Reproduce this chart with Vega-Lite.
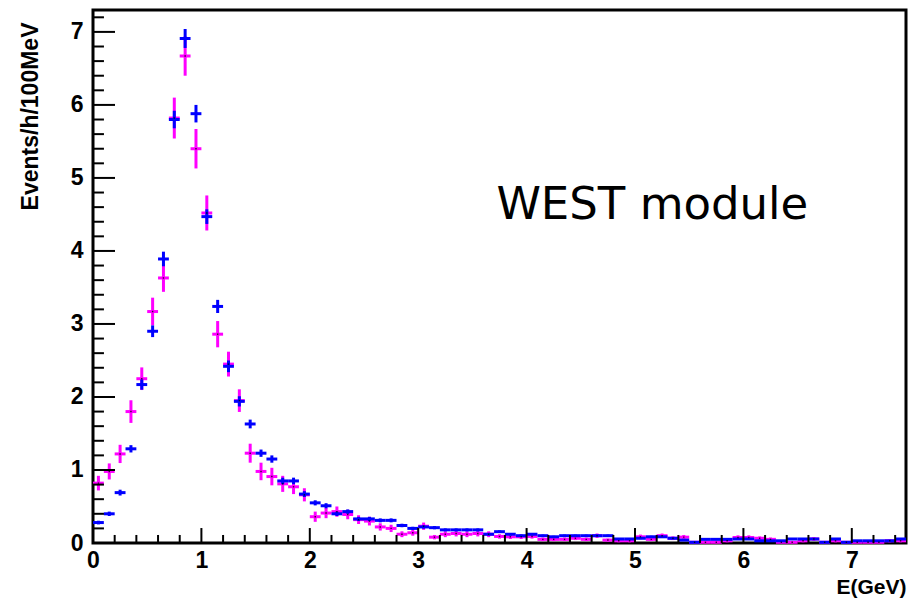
{
  "$schema": "https://vega.github.io/schema/vega-lite/v6.json",
  "width": 813,
  "height": 533,
  "autosize": {"type": "none"},
  "padding": {"left": 93, "top": 10, "right": 12, "bottom": 57},
  "background": "white",
  "config": {
    "view": {"stroke": "black", "strokeWidth": 3},
    "axis": {
      "domain": false, "ticks": false, "tickSize": 0,
      "labelFont": "Liberation Sans", "labelFontWeight": "bold", "labelFontSize": 23, "labelColor": "black",
      "titleFont": "Liberation Sans", "titleFontWeight": "bold", "titleFontSize": 21, "titleColor": "black",
      "grid": false
    }
  },
  "datasets": {
    "xmajor": [{"t":0},{"t":1},{"t":2},{"t":3},{"t":4},{"t":5},{"t":6},{"t":7}],
    "xminor": [{"t":0.2},{"t":0.4},{"t":0.6},{"t":0.8},{"t":1.2},{"t":1.4},{"t":1.6},{"t":1.8},{"t":2.2},{"t":2.4},{"t":2.6},{"t":2.8},{"t":3.2},{"t":3.4},{"t":3.6},{"t":3.8},{"t":4.2},{"t":4.4},{"t":4.6},{"t":4.8},{"t":5.2},{"t":5.4},{"t":5.6},{"t":5.8},{"t":6.2},{"t":6.4},{"t":6.6},{"t":6.8},{"t":7.2},{"t":7.4}],
    "ymajor": [{"t":1},{"t":2},{"t":3},{"t":4},{"t":5},{"t":6},{"t":7}],
    "yminor": [{"t":0.2},{"t":0.4},{"t":0.6},{"t":0.8},{"t":1.2},{"t":1.4},{"t":1.6},{"t":1.8},{"t":2.2},{"t":2.4},{"t":2.6},{"t":2.8},{"t":3.2},{"t":3.4},{"t":3.6},{"t":3.8},{"t":4.2},{"t":4.4},{"t":4.6},{"t":4.8},{"t":5.2},{"t":5.4},{"t":5.6},{"t":5.8},{"t":6.2},{"t":6.4},{"t":6.6},{"t":6.8},{"t":7.2}],
    "magenta": [
      {"e":0.05,"lo":0.0,"hi":0.1,"v":0.82,"ylo":0.72,"yhi":0.92},
      {"e":0.15,"lo":0.1,"hi":0.2,"v":0.98,"ylo":0.87,"yhi":1.09},
      {"e":0.25,"lo":0.2,"hi":0.3,"v":1.22,"ylo":1.095,"yhi":1.345},
      {"e":0.35,"lo":0.3,"hi":0.4,"v":1.80,"ylo":1.645,"yhi":1.955},
      {"e":0.45,"lo":0.4,"hi":0.5,"v":2.25,"ylo":2.095,"yhi":2.405},
      {"e":0.55,"lo":0.5,"hi":0.6,"v":3.17,"ylo":2.98,"yhi":3.36},
      {"e":0.65,"lo":0.6,"hi":0.7,"v":3.63,"ylo":3.44,"yhi":3.82},
      {"e":0.75,"lo":0.7,"hi":0.8,"v":5.82,"ylo":5.54,"yhi":6.10},
      {"e":0.85,"lo":0.8,"hi":0.9,"v":6.67,"ylo":6.40,"yhi":6.94},
      {"e":0.95,"lo":0.9,"hi":1.0,"v":5.40,"ylo":5.13,"yhi":5.67},
      {"e":1.05,"lo":1.0,"hi":1.1,"v":4.52,"ylo":4.28,"yhi":4.76},
      {"e":1.15,"lo":1.1,"hi":1.2,"v":2.86,"ylo":2.68,"yhi":3.04},
      {"e":1.25,"lo":1.2,"hi":1.3,"v":2.45,"ylo":2.28,"yhi":2.62},
      {"e":1.35,"lo":1.3,"hi":1.4,"v":1.95,"ylo":1.795,"yhi":2.105},
      {"e":1.45,"lo":1.4,"hi":1.5,"v":1.23,"ylo":1.10,"yhi":1.36},
      {"e":1.55,"lo":1.5,"hi":1.6,"v":0.98,"ylo":0.86,"yhi":1.10},
      {"e":1.65,"lo":1.6,"hi":1.7,"v":0.91,"ylo":0.79,"yhi":1.03},
      {"e":1.75,"lo":1.7,"hi":1.8,"v":0.81,"ylo":0.70,"yhi":0.92},
      {"e":1.85,"lo":1.8,"hi":1.9,"v":0.77,"ylo":0.67,"yhi":0.87},
      {"e":1.95,"lo":1.9,"hi":2.0,"v":0.66,"ylo":0.57,"yhi":0.75},
      {"e":2.05,"lo":2.0,"hi":2.1,"v":0.36,"ylo":0.29,"yhi":0.43},
      {"e":2.15,"lo":2.1,"hi":2.2,"v":0.41,"ylo":0.34,"yhi":0.48},
      {"e":2.25,"lo":2.2,"hi":2.3,"v":0.43,"ylo":0.36,"yhi":0.50},
      {"e":2.35,"lo":2.3,"hi":2.4,"v":0.39,"ylo":0.325,"yhi":0.455},
      {"e":2.45,"lo":2.4,"hi":2.5,"v":0.32,"ylo":0.26,"yhi":0.38},
      {"e":2.55,"lo":2.5,"hi":2.6,"v":0.30,"ylo":0.24,"yhi":0.36},
      {"e":2.65,"lo":2.6,"hi":2.7,"v":0.22,"ylo":0.17,"yhi":0.27},
      {"e":2.75,"lo":2.7,"hi":2.8,"v":0.20,"ylo":0.15,"yhi":0.25},
      {"e":2.85,"lo":2.8,"hi":2.9,"v":0.12,"ylo":0.08,"yhi":0.16},
      {"e":2.95,"lo":2.9,"hi":3.0,"v":0.14,"ylo":0.10,"yhi":0.18},
      {"e":3.05,"lo":3.0,"hi":3.1,"v":0.23,"ylo":0.18,"yhi":0.28},
      {"e":3.15,"lo":3.1,"hi":3.2,"v":0.08,"ylo":0.05,"yhi":0.11},
      {"e":3.25,"lo":3.2,"hi":3.3,"v":0.12,"ylo":0.08,"yhi":0.16},
      {"e":3.35,"lo":3.3,"hi":3.4,"v":0.13,"ylo":0.09,"yhi":0.17},
      {"e":3.45,"lo":3.4,"hi":3.5,"v":0.12,"ylo":0.08,"yhi":0.16},
      {"e":3.55,"lo":3.5,"hi":3.6,"v":0.13,"ylo":0.09,"yhi":0.17},
      {"e":3.65,"lo":3.6,"hi":3.7,"v":0.12,"ylo":0.08,"yhi":0.16},
      {"e":3.75,"lo":3.7,"hi":3.8,"v":0.09,"ylo":0.06,"yhi":0.12},
      {"e":3.85,"lo":3.8,"hi":3.9,"v":0.085,"ylo":0.055,"yhi":0.115},
      {"e":3.95,"lo":3.9,"hi":4.0,"v":0.085,"ylo":0.055,"yhi":0.115},
      {"e":4.05,"lo":4.0,"hi":4.1,"v":0.09,"ylo":0.06,"yhi":0.12},
      {"e":4.15,"lo":4.1,"hi":4.2,"v":0.05,"ylo":0.025,"yhi":0.075},
      {"e":4.25,"lo":4.2,"hi":4.3,"v":0.05,"ylo":0.025,"yhi":0.075},
      {"e":4.35,"lo":4.3,"hi":4.4,"v":0.05,"ylo":0.025,"yhi":0.075},
      {"e":4.45,"lo":4.4,"hi":4.5,"v":0.065,"ylo":0.04,"yhi":0.09},
      {"e":4.55,"lo":4.5,"hi":4.6,"v":0.05,"ylo":0.025,"yhi":0.075},
      {"e":4.65,"lo":4.6,"hi":4.7,"v":0.10,"ylo":0.07,"yhi":0.13},
      {"e":4.75,"lo":4.7,"hi":4.8,"v":0.04,"ylo":0.02,"yhi":0.06},
      {"e":4.85,"lo":4.8,"hi":4.9,"v":0.03,"ylo":0.01,"yhi":0.05},
      {"e":4.95,"lo":4.9,"hi":5.0,"v":0.03,"ylo":0.01,"yhi":0.05},
      {"e":5.05,"lo":5.0,"hi":5.1,"v":0.085,"ylo":0.055,"yhi":0.115},
      {"e":5.15,"lo":5.1,"hi":5.2,"v":0.05,"ylo":0.025,"yhi":0.075},
      {"e":5.25,"lo":5.2,"hi":5.3,"v":0.10,"ylo":0.07,"yhi":0.13},
      {"e":5.35,"lo":5.3,"hi":5.4,"v":0.065,"ylo":0.04,"yhi":0.09},
      {"e":5.45,"lo":5.4,"hi":5.5,"v":0.08,"ylo":0.05,"yhi":0.11},
      {"e":5.55,"lo":5.5,"hi":5.6,"v":0.01,"ylo":0.0,"yhi":0.02},
      {"e":5.65,"lo":5.6,"hi":5.7,"v":0.01,"ylo":0.0,"yhi":0.02},
      {"e":5.75,"lo":5.7,"hi":5.8,"v":0.01,"ylo":0.0,"yhi":0.02},
      {"e":5.85,"lo":5.8,"hi":5.9,"v":0.03,"ylo":0.01,"yhi":0.05},
      {"e":5.95,"lo":5.9,"hi":6.0,"v":0.075,"ylo":0.045,"yhi":0.105},
      {"e":6.05,"lo":6.0,"hi":6.1,"v":0.075,"ylo":0.045,"yhi":0.105},
      {"e":6.15,"lo":6.1,"hi":6.2,"v":0.065,"ylo":0.04,"yhi":0.09},
      {"e":6.25,"lo":6.2,"hi":6.3,"v":0.05,"ylo":0.025,"yhi":0.075},
      {"e":6.35,"lo":6.3,"hi":6.4,"v":0.01,"ylo":0.0,"yhi":0.02},
      {"e":6.45,"lo":6.4,"hi":6.5,"v":0.01,"ylo":0.0,"yhi":0.02},
      {"e":6.55,"lo":6.5,"hi":6.6,"v":0.03,"ylo":0.01,"yhi":0.05},
      {"e":6.65,"lo":6.6,"hi":6.7,"v":0.055,"ylo":0.03,"yhi":0.08},
      {"e":6.75,"lo":6.7,"hi":6.8,"v":0.01,"ylo":0.0,"yhi":0.02},
      {"e":6.85,"lo":6.8,"hi":6.9,"v":0.03,"ylo":0.01,"yhi":0.05},
      {"e":6.95,"lo":6.9,"hi":7.0,"v":0.01,"ylo":0.0,"yhi":0.02},
      {"e":7.05,"lo":7.0,"hi":7.1,"v":0.01,"ylo":0.0,"yhi":0.02},
      {"e":7.15,"lo":7.1,"hi":7.2,"v":0.01,"ylo":0.0,"yhi":0.02},
      {"e":7.25,"lo":7.2,"hi":7.3,"v":0.01,"ylo":0.0,"yhi":0.02},
      {"e":7.35,"lo":7.3,"hi":7.4,"v":0.03,"ylo":0.01,"yhi":0.05},
      {"e":7.45,"lo":7.4,"hi":7.5,"v":0.03,"ylo":0.01,"yhi":0.05}
    ],
    "blue": [
      {"e":0.05,"lo":0.0,"hi":0.1,"v":0.28,"ylo":0.255,"yhi":0.305},
      {"e":0.15,"lo":0.1,"hi":0.2,"v":0.40,"ylo":0.37,"yhi":0.43},
      {"e":0.25,"lo":0.2,"hi":0.3,"v":0.69,"ylo":0.65,"yhi":0.73},
      {"e":0.35,"lo":0.3,"hi":0.4,"v":1.29,"ylo":1.24,"yhi":1.34},
      {"e":0.45,"lo":0.4,"hi":0.5,"v":2.17,"ylo":2.10,"yhi":2.24},
      {"e":0.55,"lo":0.5,"hi":0.6,"v":2.90,"ylo":2.82,"yhi":2.98},
      {"e":0.65,"lo":0.6,"hi":0.7,"v":3.89,"ylo":3.79,"yhi":3.99},
      {"e":0.75,"lo":0.7,"hi":0.8,"v":5.80,"ylo":5.68,"yhi":5.92},
      {"e":0.85,"lo":0.8,"hi":0.9,"v":6.91,"ylo":6.78,"yhi":7.04},
      {"e":0.95,"lo":0.9,"hi":1.0,"v":5.88,"ylo":5.76,"yhi":6.00},
      {"e":1.05,"lo":1.0,"hi":1.1,"v":4.47,"ylo":4.37,"yhi":4.57},
      {"e":1.15,"lo":1.1,"hi":1.2,"v":3.24,"ylo":3.15,"yhi":3.33},
      {"e":1.25,"lo":1.2,"hi":1.3,"v":2.42,"ylo":2.34,"yhi":2.50},
      {"e":1.35,"lo":1.3,"hi":1.4,"v":1.94,"ylo":1.87,"yhi":2.01},
      {"e":1.45,"lo":1.4,"hi":1.5,"v":1.63,"ylo":1.57,"yhi":1.69},
      {"e":1.55,"lo":1.5,"hi":1.6,"v":1.23,"ylo":1.18,"yhi":1.28},
      {"e":1.65,"lo":1.6,"hi":1.7,"v":1.15,"ylo":1.10,"yhi":1.20},
      {"e":1.75,"lo":1.7,"hi":1.8,"v":0.85,"ylo":0.805,"yhi":0.895},
      {"e":1.85,"lo":1.8,"hi":1.9,"v":0.85,"ylo":0.805,"yhi":0.895},
      {"e":1.95,"lo":1.9,"hi":2.0,"v":0.67,"ylo":0.63,"yhi":0.71},
      {"e":2.05,"lo":2.0,"hi":2.1,"v":0.55,"ylo":0.515,"yhi":0.585},
      {"e":2.15,"lo":2.1,"hi":2.2,"v":0.51,"ylo":0.475,"yhi":0.545},
      {"e":2.25,"lo":2.2,"hi":2.3,"v":0.40,"ylo":0.37,"yhi":0.43},
      {"e":2.35,"lo":2.3,"hi":2.4,"v":0.43,"ylo":0.40,"yhi":0.46},
      {"e":2.45,"lo":2.4,"hi":2.5,"v":0.33,"ylo":0.302,"yhi":0.358},
      {"e":2.55,"lo":2.5,"hi":2.6,"v":0.33,"ylo":0.302,"yhi":0.358},
      {"e":2.65,"lo":2.6,"hi":2.7,"v":0.31,"ylo":0.283,"yhi":0.337},
      {"e":2.75,"lo":2.7,"hi":2.8,"v":0.31,"ylo":0.283,"yhi":0.337},
      {"e":2.85,"lo":2.8,"hi":2.9,"v":0.24,"ylo":0.216,"yhi":0.264},
      {"e":2.95,"lo":2.9,"hi":3.0,"v":0.20,"ylo":0.178,"yhi":0.222},
      {"e":3.05,"lo":3.0,"hi":3.1,"v":0.22,"ylo":0.198,"yhi":0.242},
      {"e":3.15,"lo":3.1,"hi":3.2,"v":0.21,"ylo":0.188,"yhi":0.232},
      {"e":3.25,"lo":3.2,"hi":3.3,"v":0.18,"ylo":0.16,"yhi":0.20},
      {"e":3.35,"lo":3.3,"hi":3.4,"v":0.18,"ylo":0.16,"yhi":0.20},
      {"e":3.45,"lo":3.4,"hi":3.5,"v":0.18,"ylo":0.16,"yhi":0.20},
      {"e":3.55,"lo":3.5,"hi":3.6,"v":0.18,"ylo":0.16,"yhi":0.20},
      {"e":3.65,"lo":3.6,"hi":3.7,"v":0.12,"ylo":0.103,"yhi":0.137},
      {"e":3.75,"lo":3.7,"hi":3.8,"v":0.155,"ylo":0.137,"yhi":0.173},
      {"e":3.85,"lo":3.8,"hi":3.9,"v":0.12,"ylo":0.103,"yhi":0.137},
      {"e":3.95,"lo":3.9,"hi":4.0,"v":0.10,"ylo":0.085,"yhi":0.115},
      {"e":4.05,"lo":4.0,"hi":4.1,"v":0.12,"ylo":0.103,"yhi":0.137},
      {"e":4.15,"lo":4.1,"hi":4.2,"v":0.10,"ylo":0.085,"yhi":0.115},
      {"e":4.25,"lo":4.2,"hi":4.3,"v":0.085,"ylo":0.071,"yhi":0.099},
      {"e":4.35,"lo":4.3,"hi":4.4,"v":0.10,"ylo":0.085,"yhi":0.115},
      {"e":4.45,"lo":4.4,"hi":4.5,"v":0.10,"ylo":0.085,"yhi":0.115},
      {"e":4.55,"lo":4.5,"hi":4.6,"v":0.10,"ylo":0.085,"yhi":0.115},
      {"e":4.65,"lo":4.6,"hi":4.7,"v":0.10,"ylo":0.085,"yhi":0.115},
      {"e":4.75,"lo":4.7,"hi":4.8,"v":0.10,"ylo":0.085,"yhi":0.115},
      {"e":4.85,"lo":4.8,"hi":4.9,"v":0.055,"ylo":0.043,"yhi":0.067},
      {"e":4.95,"lo":4.9,"hi":5.0,"v":0.055,"ylo":0.043,"yhi":0.067},
      {"e":5.05,"lo":5.0,"hi":5.1,"v":0.065,"ylo":0.053,"yhi":0.077},
      {"e":5.15,"lo":5.1,"hi":5.2,"v":0.085,"ylo":0.071,"yhi":0.099},
      {"e":5.25,"lo":5.2,"hi":5.3,"v":0.085,"ylo":0.071,"yhi":0.099},
      {"e":5.35,"lo":5.3,"hi":5.4,"v":0.065,"ylo":0.053,"yhi":0.077},
      {"e":5.45,"lo":5.4,"hi":5.5,"v":0.04,"ylo":0.03,"yhi":0.05},
      {"e":5.55,"lo":5.5,"hi":5.6,"v":0.01,"ylo":0.005,"yhi":0.015},
      {"e":5.65,"lo":5.6,"hi":5.7,"v":0.05,"ylo":0.04,"yhi":0.06},
      {"e":5.75,"lo":5.7,"hi":5.8,"v":0.05,"ylo":0.04,"yhi":0.06},
      {"e":5.85,"lo":5.8,"hi":5.9,"v":0.05,"ylo":0.04,"yhi":0.06},
      {"e":5.95,"lo":5.9,"hi":6.0,"v":0.055,"ylo":0.043,"yhi":0.067},
      {"e":6.05,"lo":6.0,"hi":6.1,"v":0.055,"ylo":0.043,"yhi":0.067},
      {"e":6.15,"lo":6.1,"hi":6.2,"v":0.03,"ylo":0.022,"yhi":0.038},
      {"e":6.25,"lo":6.2,"hi":6.3,"v":0.03,"ylo":0.022,"yhi":0.038},
      {"e":6.35,"lo":6.3,"hi":6.4,"v":0.03,"ylo":0.022,"yhi":0.038},
      {"e":6.45,"lo":6.4,"hi":6.5,"v":0.055,"ylo":0.043,"yhi":0.067},
      {"e":6.55,"lo":6.5,"hi":6.6,"v":0.055,"ylo":0.043,"yhi":0.067},
      {"e":6.65,"lo":6.6,"hi":6.7,"v":0.055,"ylo":0.043,"yhi":0.067},
      {"e":6.75,"lo":6.7,"hi":6.8,"v":0.01,"ylo":0.005,"yhi":0.015},
      {"e":6.85,"lo":6.8,"hi":6.9,"v":0.055,"ylo":0.043,"yhi":0.067},
      {"e":6.95,"lo":6.9,"hi":7.0,"v":0.01,"ylo":0.005,"yhi":0.015},
      {"e":7.05,"lo":7.0,"hi":7.1,"v":0.03,"ylo":0.022,"yhi":0.038},
      {"e":7.15,"lo":7.1,"hi":7.2,"v":0.03,"ylo":0.022,"yhi":0.038},
      {"e":7.25,"lo":7.2,"hi":7.3,"v":0.03,"ylo":0.022,"yhi":0.038},
      {"e":7.35,"lo":7.3,"hi":7.4,"v":0.03,"ylo":0.022,"yhi":0.038},
      {"e":7.45,"lo":7.4,"hi":7.5,"v":0.055,"ylo":0.043,"yhi":0.067}
    ],
    "ann": [{"x": 5.16, "y": 4.63, "t": "WEST module"}]
  },
  "layer": [
    {
      "data": {"name": "magenta"},
      "mark": {"type": "rule", "color": "#ff00ff", "strokeWidth": 3},
      "encoding": {
        "x": {"field": "lo", "type": "quantitative",
          "scale": {"domain": [0, 7.5], "nice": false, "zero": false},
          "axis": {
            "orient": "bottom", "title": "E(GeV)",
            "values": [0,1,2,3,4,5,6,7], "format": "d",
            "ticks": false, "tickSize": 0, "labelPadding": 6,
            "labelOverlap": false, "labelFlush": false,
            "titleAnchor": "end", "titleAlign": "right", "titleX": 813, "titleY": 44, "titleBaseline": "middle"
          }
        },
        "x2": {"field": "hi"},
        "y": {"field": "v", "type": "quantitative",
          "scale": {"domain": [0, 7.3], "nice": false},
          "axis": {
            "orient": "left", "title": "Events/h/100MeV",
            "values": [0,1,2,3,4,5,6,7], "format": "d",
            "ticks": false, "tickSize": 0, "labelPadding": 10,
            "labelOverlap": false, "labelFlush": false,
            "titleFontSize": 23,
            "titleAngle": -90, "titleAlign": "right", "titleX": -63, "titleY": 12, "titleBaseline": "middle"
          }
        }
      }
    },
    {
      "data": {"name": "magenta"},
      "mark": {"type": "rule", "color": "#ff00ff", "strokeWidth": 3},
      "encoding": {
        "x": {"field": "e", "type": "quantitative", "title": "E(GeV)"},
        "y": {"field": "ylo", "type": "quantitative", "title": "Events/h/100MeV"},
        "y2": {"field": "yhi"}
      }
    },
    {
      "data": {"name": "blue"},
      "mark": {"type": "rule", "color": "#0000ff", "strokeWidth": 3},
      "encoding": {
        "x": {"field": "lo", "type": "quantitative", "title": "E(GeV)"},
        "x2": {"field": "hi"},
        "y": {"field": "v", "type": "quantitative", "title": "Events/h/100MeV"}
      }
    },
    {
      "data": {"name": "blue"},
      "mark": {"type": "rule", "color": "#0000ff", "strokeWidth": 3},
      "encoding": {
        "x": {"field": "e", "type": "quantitative", "title": "E(GeV)"},
        "y": {"field": "ylo", "type": "quantitative", "title": "Events/h/100MeV"},
        "y2": {"field": "yhi"}
      }
    },
    {
      "data": {"name": "magenta"},
      "mark": {"type": "square", "color": "black", "size": 2, "opacity": 0.8},
      "encoding": {
        "x": {"field": "e", "type": "quantitative", "title": "E(GeV)"},
        "y": {"field": "v", "type": "quantitative", "title": "Events/h/100MeV"}
      }
    },
    {
      "data": {"name": "xmajor"},
      "mark": {"type": "rule", "color": "black", "strokeWidth": 2},
      "encoding": {
        "x": {"field": "t", "type": "quantitative", "title": "E(GeV)"},
        "y": {"datum": 0, "type": "quantitative", "title": "Events/h/100MeV"},
        "y2": {"datum": 0.205}
      }
    },
    {
      "data": {"name": "xminor"},
      "mark": {"type": "rule", "color": "black", "strokeWidth": 2},
      "encoding": {
        "x": {"field": "t", "type": "quantitative", "title": "E(GeV)"},
        "y": {"datum": 0, "type": "quantitative", "title": "Events/h/100MeV"},
        "y2": {"datum": 0.11}
      }
    },
    {
      "data": {"name": "ymajor"},
      "mark": {"type": "rule", "color": "black", "strokeWidth": 2},
      "encoding": {
        "y": {"field": "t", "type": "quantitative", "title": "Events/h/100MeV"},
        "x": {"datum": 0, "type": "quantitative", "title": "E(GeV)"},
        "x2": {"datum": 0.203}
      }
    },
    {
      "data": {"name": "yminor"},
      "mark": {"type": "rule", "color": "black", "strokeWidth": 2},
      "encoding": {
        "y": {"field": "t", "type": "quantitative", "title": "Events/h/100MeV"},
        "x": {"datum": 0, "type": "quantitative", "title": "E(GeV)"},
        "x2": {"datum": 0.101}
      }
    },
    {
      "data": {"name": "ann"},
      "mark": {"type": "text", "font": "DejaVu Sans", "fontSize": 45, "color": "black", "align": "center", "baseline": "middle"},
      "encoding": {
        "x": {"field": "x", "type": "quantitative", "title": "E(GeV)"},
        "y": {"field": "y", "type": "quantitative", "title": "Events/h/100MeV"},
        "text": {"field": "t"}
      }
    }
  ]
}
